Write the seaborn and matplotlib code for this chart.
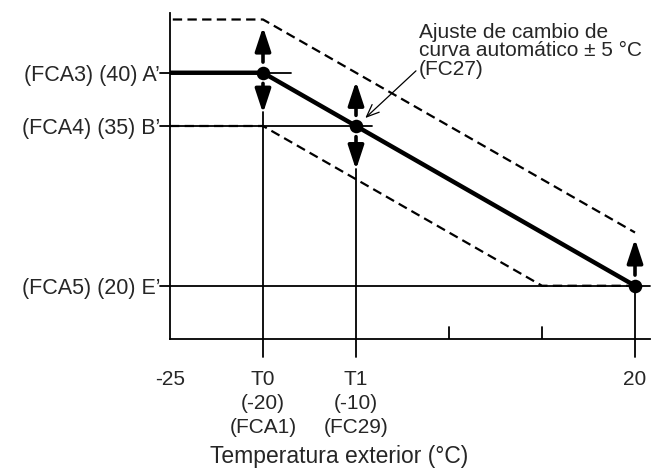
import matplotlib
matplotlib.use("Agg")
import matplotlib.pyplot as plt
import seaborn as sns

# Schematic x positions (evenly spaced on the drawing) and their labels
x_pos = [0, 1, 2, 3, 4, 5]
x_labels = ["-25", "T0\n(-20)\n(FCA1)", "T1\n(-10)\n(FC29)", "", "", "20"]

# Water temperature set points on the y axis
y_levels = [40, 35, 20]
y_labels = ["(FCA3) (40) A\u2019", "(FCA4) (35) B\u2019", "(FCA5) (20) E\u2019"]

# Heating curve and the +/- 5 degC shifted curves
curve_x = [0, 1, 2, 5]
curve_y = [40, 40, 35, 20]
upper_x = [0.03, 1, 5]
upper_y = [45, 45, 25]
lower_x = [0, 1, 4, 5]
lower_y = [35, 35, 20, 20]
dots_x = [1, 2, 5]
dots_y = [40, 35, 20]

note = "Ajuste de cambio de\ncurva automático ± 5 °C\n(FC27)"

sns.set_theme(style="white")
plt.rcParams["font.family"] = ["Liberation Sans", "DejaVu Sans"]

fig = plt.figure(figsize=(6.61, 4.74), dpi=100)
ax = fig.add_axes([170 / 661, 135 / 474, 480 / 661, 326 / 474])
x_max = 480 / 93
ax.set_xlim(0, x_max)
ax.set_ylim(15, 15 + 326 / 10.65)

for s in ["top", "right"]:
    ax.spines[s].set_visible(False)
for s in ["left", "bottom"]:
    ax.spines[s].set_color("black")
    ax.spines[s].set_linewidth(1.3)

# thin reference lines
lw_thin = 1.3
ax.plot([-0.11, 1.3], [40, 40], color="black", lw=lw_thin, clip_on=False)
ax.plot([-0.11, 2.17], [35, 35], color="black", lw=lw_thin, clip_on=False)
ax.plot([-0.11, x_max], [20, 20], color="black", lw=lw_thin, clip_on=False)
ax.plot([1, 1], [13.3, 36.3], color="black", lw=lw_thin, clip_on=False)
ax.plot([2, 2], [13.3, 31.0], color="black", lw=lw_thin, clip_on=False)
ax.plot([5, 5], [13.3, 20], color="black", lw=lw_thin, clip_on=False)
for xp in x_pos[3:5]:
    ax.plot([xp, xp], [15, 16.1], color="black", lw=lw_thin)

# curves
sns.lineplot(x=upper_x, y=upper_y, color="black", lw=1.6, linestyle=(0, (4.2, 2.4)), ax=ax)
sns.lineplot(x=lower_x, y=lower_y, color="black", lw=1.6, linestyle=(0, (4.2, 2.4)), ax=ax)
sns.lineplot(x=curve_x, y=curve_y, color="black", lw=3.2, ax=ax)
sns.scatterplot(x=dots_x, y=dots_y, color="black", s=95, zorder=5, ax=ax, linewidth=0)

# shift arrows
arrow_kw = dict(arrowstyle="-|>,head_length=0.85,head_width=0.28", color="black",
                lw=2.6, mutation_scale=17, shrinkA=0, shrinkB=0)
ax.annotate("", xy=(1, 44.3), xytext=(1, 41.0), arrowprops=arrow_kw)
ax.annotate("", xy=(1, 36.2), xytext=(1, 39.0), arrowprops=arrow_kw)
ax.annotate("", xy=(2, 39.2), xytext=(2, 36.0), arrowprops=arrow_kw)
ax.annotate("", xy=(2, 30.9), xytext=(2, 34.0), arrowprops=arrow_kw)
ax.annotate("", xy=(5, 24.4), xytext=(5, 21.0), arrowprops=arrow_kw)

# note with pointer
ax.annotate(note, xy=(2.1, 35.75), xytext=(2.68, 44.7), fontsize=15,
            ha="left", va="top", linespacing=0.98, annotation_clip=False,
            arrowprops=dict(arrowstyle="->,head_length=0.6,head_width=0.25",
                            color="black", lw=0.9, shrinkA=0, shrinkB=0,
                            relpos=(0.0, 0.2)))

ax.set_xticks(x_pos)
ax.set_xticklabels(x_labels, fontsize=15, linespacing=1.34)
ax.set_yticks(y_levels)
ax.set_yticklabels(y_labels, fontsize=15.5)
ax.tick_params(axis="x", length=0, pad=22)
ax.tick_params(axis="y", length=0, pad=7)

ax.set_xlabel("Temperatura exterior (°C)", fontsize=16.5)
ax.xaxis.set_label_coords(0.352, -0.36)
ax.xaxis.label.set_va("center")

plt.savefig("out.png", dpi=100)
